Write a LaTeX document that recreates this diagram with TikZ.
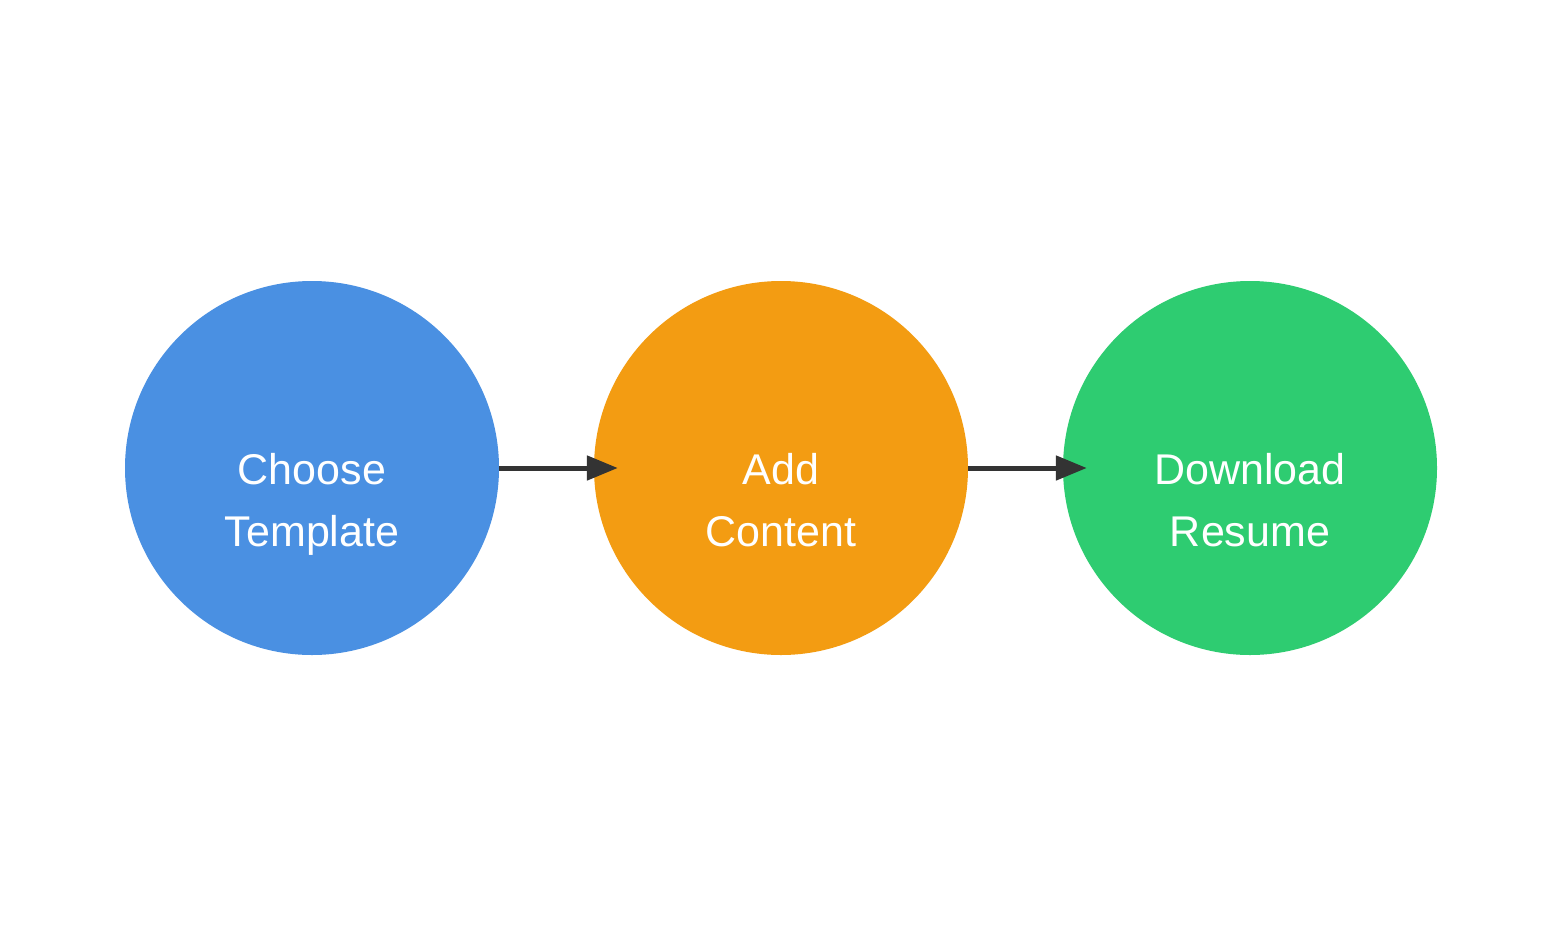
\documentclass[tikz,border=0pt]{standalone}
\usepackage{fontspec}
\setmainfont{Liberation Sans}
\usetikzlibrary{arrows.meta}
\definecolor{cblue}{HTML}{4A90E2}
\definecolor{corange}{HTML}{F39C12}
\definecolor{cgreen}{HTML}{2ECC71}
\definecolor{cline}{HTML}{333333}
\tikzset{
  stepcirc/.style={circle, minimum size=374pt, inner sep=0pt, draw=none},
  steptext/.style={text=white, align=center, anchor=base, inner sep=0pt,
    font=\fontsize{43pt}{62pt}\selectfont},
  flowarrow/.style={draw=cline, line width=5pt,
    -{Triangle[length=31pt,width=24pt]}, shorten >=-24pt}
}
\begin{document}
\begin{tikzpicture}[x=1pt,y=-1pt]
\useasboundingbox[fill=white] (0,0) rectangle (1562,937);
\node[stepcirc, fill=cblue] (a) at (312,468) {};
\node[stepcirc, fill=corange] (b) at (781,468) {};
\node[stepcirc, fill=cgreen] (c) at (1250,468) {};
\node[steptext] (ta) at (312,546) {Choose\\Template};
\node[steptext] (tb) at (781,546) {Add\\Content};
\node[steptext] (tc) at (1250,546) {Download\\Resume};
\draw[flowarrow] (a.east) -- (b.west);
\draw[flowarrow] (b.east) -- (c.west);
\end{tikzpicture}
\end{document}
